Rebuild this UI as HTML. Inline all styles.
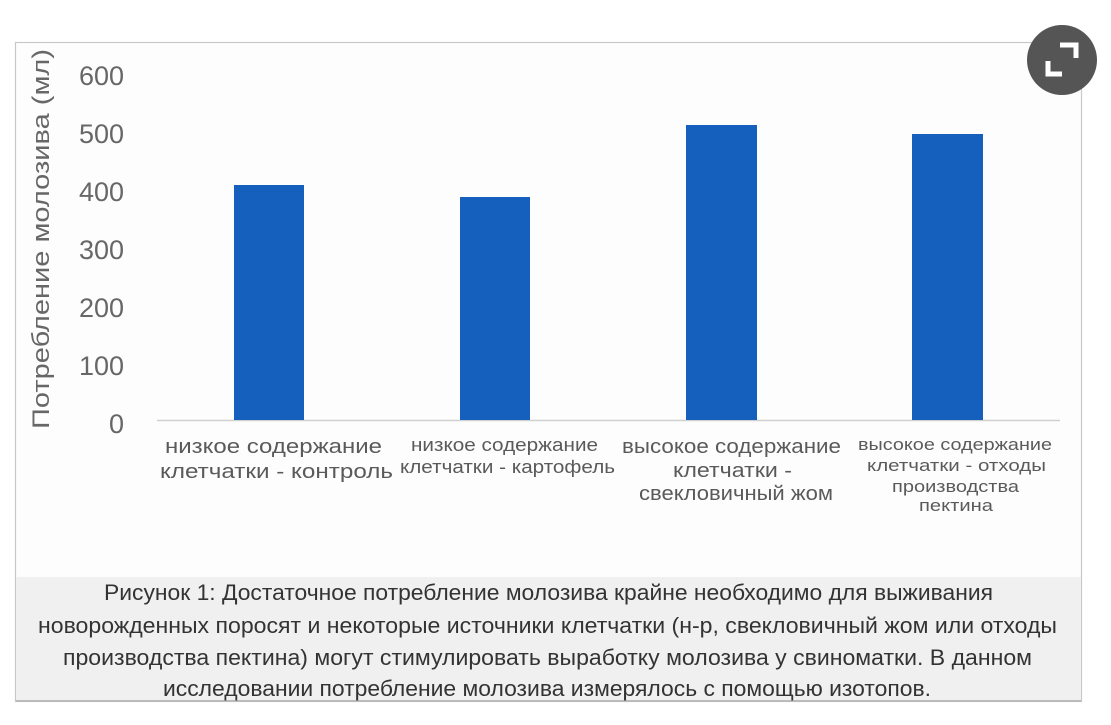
<!DOCTYPE html>
<html><head><meta charset="utf-8"><style>
html,body{margin:0;padding:0;background:#fff;}
svg{display:block;}
</style></head><body>
<svg width="1111" height="725" xmlns="http://www.w3.org/2000/svg" font-family="Liberation Sans, sans-serif">
<rect x="0" y="0" width="1111" height="725" fill="#fff"/>
<rect x="15.5" y="42.5" width="1066" height="659" fill="#fdfdfd" stroke="#c8c8c8" stroke-width="1.2"/>
<rect x="16" y="577" width="1065" height="124" fill="#f0f0f0"/>
<line x1="16" y1="701" x2="1081" y2="701" stroke="#bbb" stroke-width="2"/>
<line x1="157" y1="420.5" x2="1060" y2="420.5" stroke="#d0d0d0" stroke-width="1.5"/>
<g fill="#676767" font-size="27" text-anchor="end">
<text x="124" y="85">600</text>
<text x="124" y="143">500</text>
<text x="124" y="201">400</text>
<text x="124" y="259">300</text>
<text x="124" y="317">200</text>
<text x="124" y="375">100</text>
<text x="124" y="433">0</text>
</g>
<text transform="translate(49,239) rotate(-90)" text-anchor="middle" fill="#676767" font-size="24" textLength="380" lengthAdjust="spacingAndGlyphs">Потребление молозива (мл)</text>
<g fill="#1560bd">
<rect x="234" y="185" width="70" height="235"/>
<rect x="460" y="197" width="70" height="223"/>
<rect x="686" y="125" width="71" height="295"/>
<rect x="912" y="134" width="71" height="286"/>
</g>
<g fill="#5a5a5a">
<text x="165" y="453" font-size="20" textLength="217" lengthAdjust="spacingAndGlyphs">низкое содержание</text>
<text x="160" y="478" font-size="20" textLength="233" lengthAdjust="spacingAndGlyphs">клетчатки - контроль</text>
<text x="411" y="451" font-size="18" textLength="187" lengthAdjust="spacingAndGlyphs">низкое содержание</text>
<text x="400" y="473" font-size="18" textLength="215" lengthAdjust="spacingAndGlyphs">клетчатки - картофель</text>
<text x="622" y="453" font-size="20" textLength="219" lengthAdjust="spacingAndGlyphs">высокое содержание</text>
<text x="673" y="477" font-size="20" textLength="119" lengthAdjust="spacingAndGlyphs">клетчатки -</text>
<text x="639" y="500" font-size="20" textLength="194" lengthAdjust="spacingAndGlyphs">свекловичный жом</text>
<text x="858" y="450" font-size="17" textLength="194" lengthAdjust="spacingAndGlyphs">высокое содержание</text>
<text x="867" y="471" font-size="17" textLength="179" lengthAdjust="spacingAndGlyphs">клетчатки - отходы</text>
<text x="892" y="492" font-size="17" textLength="127" lengthAdjust="spacingAndGlyphs">производства</text>
<text x="919" y="511" font-size="17" textLength="74" lengthAdjust="spacingAndGlyphs">пектина</text>
</g>
<g fill="#333" font-size="22">
<text x="104" y="600" textLength="889" lengthAdjust="spacingAndGlyphs">Рисунок 1: Достаточное потребление молозива крайне необходимо для выживания</text>
<text x="38" y="633" textLength="1019" lengthAdjust="spacingAndGlyphs">новорожденных поросят и некоторые источники клетчатки (н-р, свекловичный жом или отходы</text>
<text x="63" y="665" textLength="969" lengthAdjust="spacingAndGlyphs">производства пектина) могут стимулировать выработку молозива у свиноматки. В данном</text>
<text x="163" y="696" textLength="768" lengthAdjust="spacingAndGlyphs">исследовании потребление молозива измерялось с помощью изотопов.</text>
</g>
<circle cx="1062" cy="60" r="35" fill="#555"/>
<g stroke="#fff" stroke-width="5" fill="none">
<path d="M1060 45 H1076 V58"/>
<path d="M1048 61 V74 H1062"/>
</g>
</svg>
</body></html>
